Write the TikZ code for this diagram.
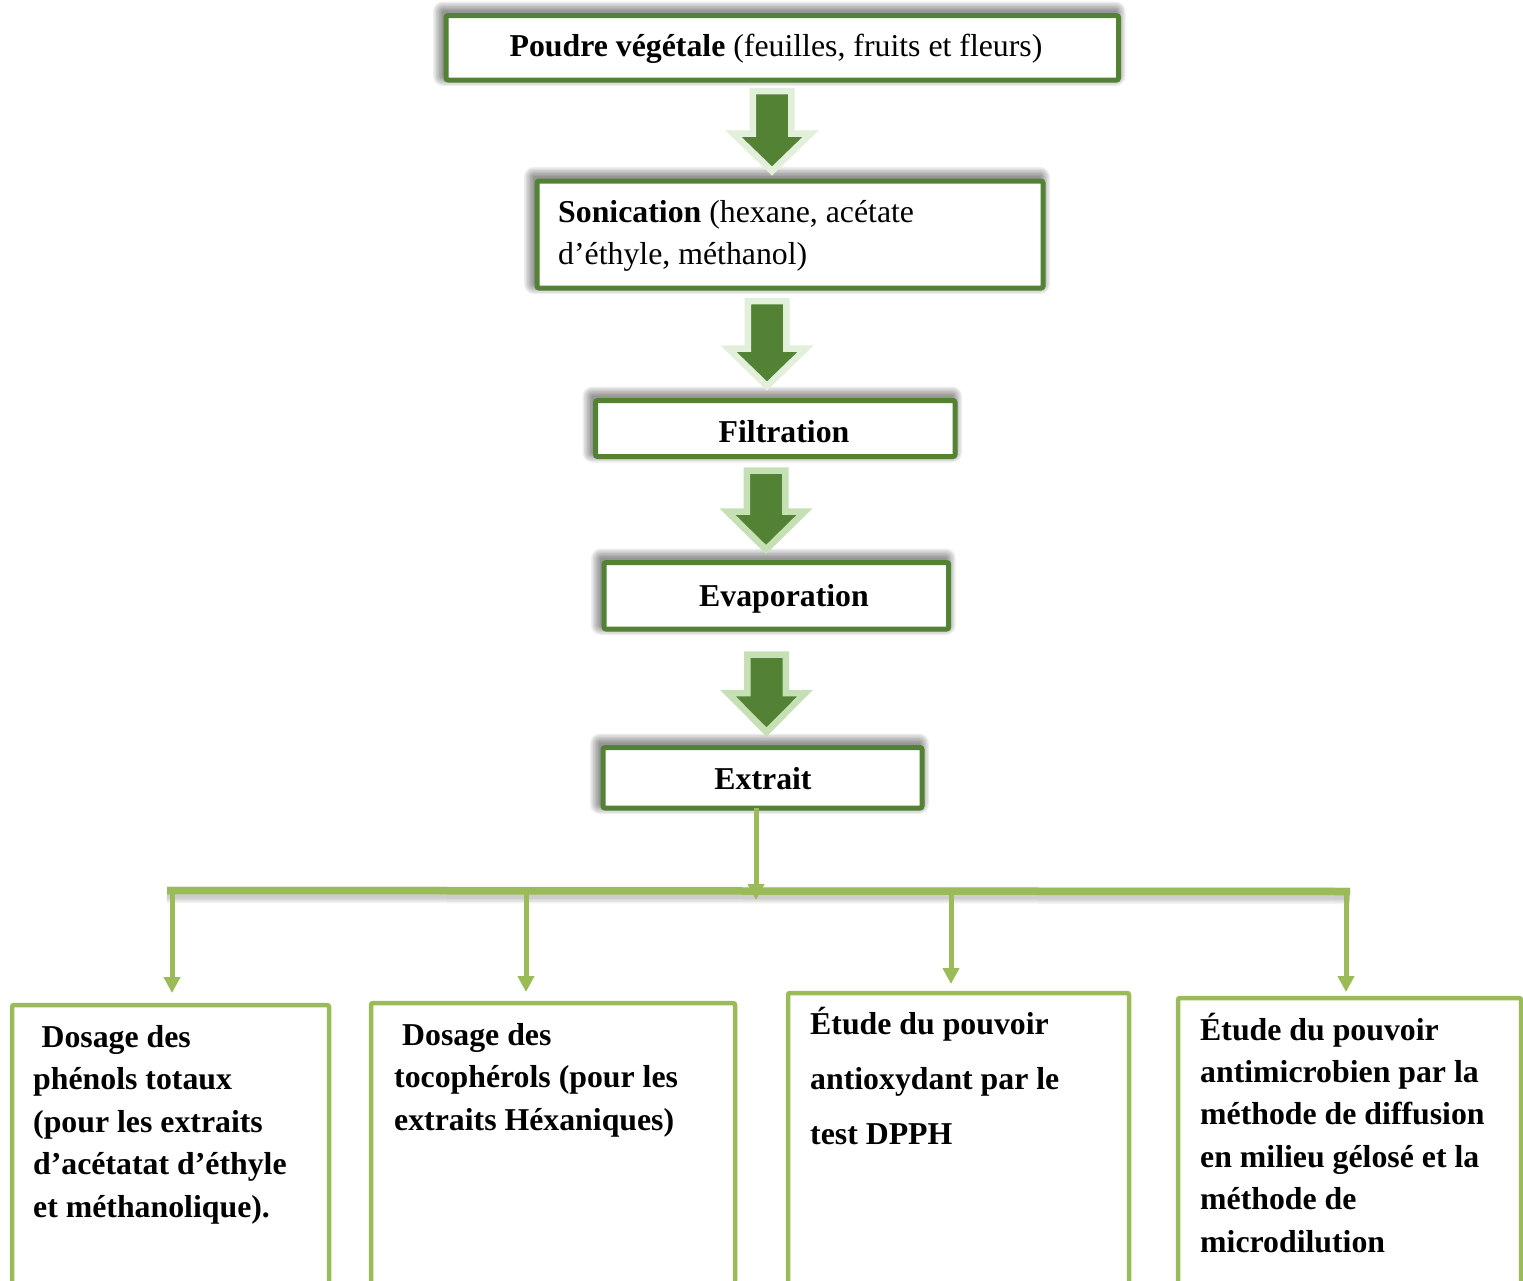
\documentclass[tikz,border=0pt]{standalone}
\usepackage{fontspec}
\setmainfont{Liberation Serif}
\usetikzlibrary{arrows.meta,backgrounds}
\definecolor{dkgreen}{HTML}{548235}
\definecolor{ltgreen}{HTML}{9BBB59}
\definecolor{paleA}{HTML}{E2EFDA}
\definecolor{paleB}{HTML}{C5E0B4}
\tikzset{
  darkbox/.style={draw=dkgreen, line width=5pt, fill=white, rounded corners=2pt, inner sep=0pt, outer sep=0pt, anchor=north west},
  lightbox/.style={draw=ltgreen, line width=4.5pt, fill=white, rounded corners=2pt, inner sep=0pt, outer sep=0pt, anchor=north west},
  lbl/.style={font=\fontsize{31.8}{42}\selectfont, inner sep=0pt, text=black},
  lblb/.style={font=\fontsize{31.8}{42}\selectfont\bfseries, inner sep=0pt, text=black},
  conn/.style={draw=ltgreen, line width=5pt, -{Triangle[length=16pt,width=16pt]}},
  blockarr/.style={line width=6.5pt, fill=dkgreen},
}
\newcommand\blockarrow[5]{\draw[blockarr, draw=#5] (#1-19.25,#2) -- (#1+19.25,#2) -- (#1+19.25,#3) -- (#1+38.75,#3) -- (#1,#4) -- (#1-38.75,#3) -- (#1-19.25,#3) -- cycle;}
\newcommand\boxshade[1]{\begin{scope}[on background layer]
  \foreach \r in {1,2.5,4,5.5,7,8.5,10}{\fill[black, opacity=0.07, rounded corners=\r pt] ([shift={(-3-\r,-4-\r)}]#1.north west) rectangle ([shift={(-3+\r,-4+\r)}]#1.south east);}
\end{scope}}
\begin{document}
\begin{tikzpicture}[x=1pt,y=-1pt]
\path[use as bounding box] (0,0) rectangle (1523,1280);
\clip (0,0) rectangle (1523,1280);
\begin{scope}[on background layer]
  \fill[white] (0,0) rectangle (1523,1280);
\end{scope}

% block arrows
\blockarrow{772}{91}{133.5}{171}{paleA}
\blockarrow{767}{301}{348.5}{386}{paleA}
\blockarrow{766}{470.5}{511.5}{549.5}{paleB}
\blockarrow{766.5}{654.5}{693}{732}{paleB}

% process boxes
\node[darkbox, minimum width=672.5pt, minimum height=64.5pt] (b1) at (446,15.5) {};
\node[darkbox, minimum width=506pt, minimum height=107pt] (b2) at (537,181) {};
\node[darkbox, minimum width=359.5pt, minimum height=56pt] (b3) at (595.5,400.5) {};
\node[darkbox, minimum width=344.7pt, minimum height=66.5pt] (b4) at (604,562.5) {};
\node[darkbox, minimum width=319pt, minimum height=60.5pt] (b5) at (603,747.5) {};
\boxshade{b1}\boxshade{b2}\boxshade{b3}\boxshade{b4}\boxshade{b5}

\node[lbl, anchor=base] (t1) at (776,56) {\textbf{Poudre végétale} (feuilles, fruits et fleurs)};
\node[lbl, anchor=north west, align=left] (t2) at (558,192.6) {\strut\textbf{Sonication} (hexane, acétate\\d’éthyle, méthanol)};
\node[lblb, anchor=base] (t3) at (784,442.5) {Filtration};
\node[lblb, anchor=base] (t4) at (784,606.5) {Evaporation};
\node[lblb, anchor=base] (t5) at (763,789) {Extrait};

% distribution bar
\coordinate (barL) at (167,890.5);
\coordinate (barR) at (1350,891.5);
\begin{scope}[on background layer]
  \foreach \w in {8,11,14,17}{\draw[black, opacity=0.05, line width=\w pt] ([yshift=-4pt]barL) -- ([yshift=-4pt]barR);}
\end{scope}
\draw[ltgreen, line width=7.5pt] (barL) -- (barR);
\coordinate (j0) at (756,900);
\draw[conn] (b5.south -| j0) -- (j0);

% result boxes
\node[lightbox, minimum width=317pt, minimum height=280pt] (c1) at (12,1005) {};
\node[lightbox, minimum width=364pt, minimum height=282pt] (c2) at (371,1003) {};
\node[lightbox, minimum width=341pt, minimum height=292pt] (c3) at (788,993) {};
\node[lightbox, minimum width=343pt, minimum height=287pt] (c4) at (1178,998) {};

\coordinate (k1) at (172,993);
\coordinate (k2) at (526,992);
\coordinate (k3) at (951,984);
\coordinate (k4) at (1346,992);
\draw[conn] (barL -| k1) -- (k1);
\draw[conn] (barL -| k2) -- (k2);
\draw[conn] (barL -| k3) -- (k3);
\draw[conn] (barL -| k4) -- (k4);

\node[lblb, anchor=north west, align=left, font=\fontsize{31.8}{42.5}\selectfont\bfseries] (u1) at (33,1017.25)
  {\strut\hspace{8.4pt}Dosage des\\phénols totaux\\(pour les extraits\\d’acétatat d’éthyle\\et méthanolique).};
\node[lblb, anchor=north west, align=left, font=\fontsize{31.8}{42.5}\selectfont\bfseries] (u2) at (394,1015.25)
  {\strut\hspace{8pt}Dosage des\\tocophérols (pour les\\extraits Héxaniques)};
\node[lblb, anchor=north west, align=left, font=\fontsize{31.8}{55}\selectfont\bfseries] (u3) at (810,995.5)
  {\strut Étude du pouvoir\\antioxydant par le\\test DPPH};
\node[lblb, anchor=north west, align=left, font=\fontsize{31.8}{42.4}\selectfont\bfseries] (u4) at (1200,1010.3)
  {\strut Étude du pouvoir\\antimicrobien par la\\méthode de diffusion\\en milieu gélosé et la\\méthode de\\microdilution};
\end{tikzpicture}
\end{document}
